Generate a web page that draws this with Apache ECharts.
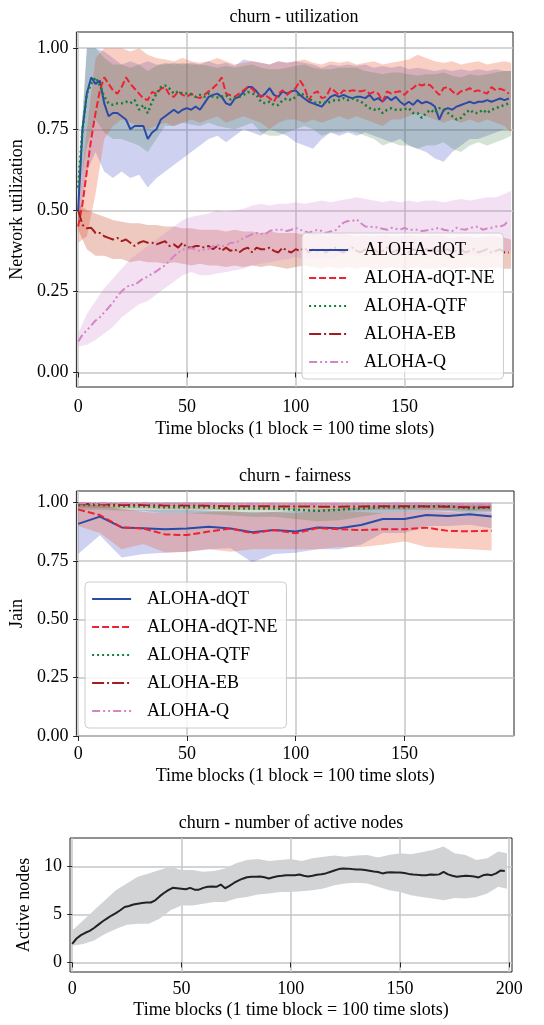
<!DOCTYPE html>
<html><head><meta charset="utf-8">
<script src="https://cdn.jsdelivr.net/npm/echarts@6/dist/echarts.min.js"></script>
<style>html,body{margin:0;padding:0;background:#fff}#c{width:544px;height:1025px}</style>
</head><body><div id="c"></div>
<script>
// ---------- names / ticks ----------
const seriesNames = ['ALOHA-dQT','ALOHA-dQT-NE','ALOHA-QTF','ALOHA-EB','ALOHA-Q'];
const xTicksTop = [0,50,100,150];
const yTicksFrac = [0,0.25,0.5,0.75,1.0];
const xTicksNodes = [0,50,100,150,200];
const yTicksNodes = [0,5,10];

// ---------- utilization (x = 0,2,...,198) ----------
const utilX = Array.from({length:100},(_,i)=>2*i);
const utilDQT = [
.50,.75,.86,.91,.89,.90,.83,.79,.80,.80,
.79,.78,.75,.76,.76,.76,.72,.74,.75,.78,
.79,.80,.81,.80,.81,.815,.81,.82,.81,.83,
.85,.856,.86,.85,.83,.825,.845,.85,.865,.88,
.88,.867,.85,.86,.877,.856,.85,.867,.86,.867,
.87,.856,.845,.835,.83,.825,.82,.835,.85,.856,
.85,.856,.85,.846,.85,.85,.846,.856,.84,.846,
.835,.85,.84,.85,.835,.825,.835,.825,.84,.83,
.835,.83,.82,.78,.81,.815,.81,.82,.825,.83,
.835,.83,.835,.835,.84,.835,.84,.845,.84,.845];
const utilNE = [
.45,.52,.62,.72,.80,.87,.91,.89,.87,.86,
.88,.91,.89,.875,.86,.845,.84,.865,.86,.875,
.88,.856,.85,.867,.856,.85,.86,.85,.846,.856,
.867,.877,.89,.91,.86,.855,.85,.86,.87,.88,
.875,.86,.85,.856,.846,.835,.86,.87,.856,.867,
.877,.90,.88,.84,.86,.867,.846,.85,.877,.867,
.855,.87,.867,.87,.868,.867,.87,.86,.865,.86,
.835,.867,.86,.865,.867,.856,.87,.877,.89,.885,
.89,.885,.87,.856,.877,.88,.867,.856,.867,.87,
.877,.867,.87,.865,.86,.88,.87,.875,.87,.86];
const utilQTF = [
.57,.75,.86,.89,.91,.885,.85,.83,.825,.83,
.83,.835,.83,.84,.81,.825,.80,.835,.86,.88,
.885,.875,.86,.867,.86,.86,.858,.85,.856,.85,
.86,.85,.848,.85,.855,.842,.846,.85,.856,.865,
.86,.856,.835,.83,.835,.825,.825,.84,.845,.84,
.85,.86,.856,.846,.835,.83,.835,.83,.835,.84,
.84,.846,.84,.845,.84,.835,.825,.815,.81,.815,
.80,.81,.815,.81,.81,.812,.815,.80,.80,.785,
.80,.81,.80,.815,.81,.80,.79,.78,.785,.80,
.81,.80,.80,.81,.80,.81,.815,.82,.825,.83];
const utilEB = [
.50,.455,.445,.446,.43,.43,.42,.415,.41,.415,
.405,.41,.40,.39,.40,.405,.40,.40,.395,.40,
.405,.39,.395,.385,.40,.385,.385,.39,.39,.385,
.39,.38,.39,.375,.385,.375,.38,.37,.38,.385,
.37,.385,.38,.38,.385,.375,.37,.385,.375,.37,
.38,.375,.385,.37,.38,.375,.38,.37,.38,.385,
.375,.37,.38,.385,.375,.37,.38,.375,.38,.37,
.375,.385,.37,.375,.38,.375,.37,.38,.375,.37,
.38,.375,.385,.37,.375,.38,.37,.375,.38,.37,
.375,.38,.37,.375,.38,.37,.375,.38,.37,.37];
const utilQ = [
.095,.116,.13,.145,.16,.17,.185,.20,.215,.235,
.25,.262,.27,.27,.28,.29,.295,.305,.312,.322,
.33,.345,.358,.369,.379,.38,.384,.378,.374,.379,
.38,.39,.393,.39,.39,.40,.40,.405,.415,.42,
.426,.43,.428,.426,.436,.44,.44,.44,.436,.44,
.446,.44,.436,.43,.436,.44,.436,.43,.435,.436,
.45,.462,.467,.467,.472,.46,.45,.448,.45,.446,
.443,.44,.446,.443,.44,.446,.44,.44,.44,.436,
.438,.44,.443,.446,.44,.438,.436,.446,.442,.44,
.446,.448,.45,.44,.444,.446,.45,.45,.455,.47];

// ---------- utilization bands (x = 0,4,...,196,199) ----------
const bandX = Array.from({length:50},(_,i)=>4*i).concat([199]);
const bandDQTup = [.56,1.0,1.0,.99,.97,.95,.96,.95,.96,.95, .95,.955,.95,.955,.95,.96,.95,.955,.945,.965, .96,.955,.95,.96,.955,.96,.955,.95,.94,.95, .945,.95,.945,.95,.94,.945,.94,.945,.935,.94, .935,.93,.935,.93,.935,.93,.935,.93,.935,.93, .93];
const bandDQTlo = [.45,.62,.68,.62,.60,.62,.60,.61,.57,.60, .62,.64,.66,.68,.70,.72,.73,.71,.73,.75, .74,.73,.75,.74,.73,.71,.70,.69,.72,.74, .73,.74,.73,.74,.73,.72,.71,.72,.70,.69, .68,.66,.65,.68,.70,.72,.72,.73,.74,.75, .75];
const bandNEup = [.50,.75,.97,1.0,1.0,1.0,.99,1.0,.98,.97, .965,.96,.97,.96,.955,.96,.97,.96,.95,.955, .96,.955,.95,.96,.955,.96,.965,.955,.95,.96, .955,.96,.95,.955,.96,.95,.955,.96,.965,.98, .97,.96,.955,.96,.95,.955,.96,.95,.955,.96, .955];
const bandNElo = [.40,.42,.55,.72,.76,.78,.77,.76,.75,.76, .77,.76,.77,.78,.77,.78,.79,.77,.78,.79, .78,.77,.75,.77,.78,.78,.77,.78,.77,.78, .79,.78,.79,.78,.77,.76,.78,.78,.79,.80, .79,.78,.77,.78,.77,.78,.77,.78,.77,.76, .74];
const bandQTFup = [.60,1.0,1.0,.97,.95,.95,.94,.95,.93,.945, .955,.95,.955,.95,.95,.945,.94,.945,.94,.945, .95,.94,.935,.935,.94,.945,.95,.94,.935,.935, .94,.94,.94,.93,.925,.92,.925,.925,.92,.915, .92,.92,.925,.915,.91,.92,.915,.92,.925,.93, .93];
const bandQTFlo = [.54,.70,.78,.74,.72,.72,.71,.70,.68,.72, .76,.76,.77,.765,.76,.77,.76,.755,.75,.76, .77,.74,.73,.73,.74,.75,.76,.75,.73,.74, .74,.745,.74,.73,.72,.70,.71,.70,.70,.69, .70,.70,.71,.69,.68,.70,.71,.70,.71,.72, .73];
const bandEBup = [.52,.50,.49,.48,.47,.465,.46,.46,.455,.455, .45,.45,.445,.445,.44,.44,.44,.435,.44,.435, .435,.43,.435,.43,.43,.43,.425,.43,.425,.425, .43,.425,.42,.425,.42,.425,.42,.42,.425,.42, .42,.425,.42,.415,.42,.42,.415,.42,.42,.415, .41];
const bandEBlo = [.44,.38,.36,.36,.35,.35,.34,.345,.34,.34, .335,.34,.335,.33,.335,.33,.33,.325,.33,.325, .33,.325,.33,.325,.32,.325,.33,.325,.32,.325, .32,.325,.32,.325,.32,.32,.325,.32,.32,.325, .32,.32,.325,.32,.32,.325,.32,.32,.325,.32, .32];
const bandQup = [.12,.18,.22,.26,.29,.32,.35,.37,.39,.41, .43,.45,.47,.48,.485,.49,.50,.495,.50,.505, .515,.52,.515,.52,.52,.525,.52,.525,.53,.525, .53,.535,.54,.535,.53,.525,.53,.525,.53,.525, .53,.53,.525,.53,.535,.53,.535,.54,.54,.55, .56];
const bandQlo = [.08,.085,.10,.12,.14,.17,.19,.21,.22,.24, .26,.28,.30,.31,.30,.30,.305,.31,.315,.32, .33,.335,.34,.345,.35,.355,.35,.35,.355,.35, .36,.37,.375,.37,.365,.36,.365,.36,.36,.36, .355,.36,.36,.355,.36,.36,.36,.36,.365,.37, .375];

// ---------- fairness (x = 0,10,...,190) ----------
const fairX = [0,10,20,30,40,50,60,70,80,90,100,110,120,130,140,150,160,170,180,190];
const fairDQT = [.909,.94,.894,.89,.886,.889,.897,.889,.873,.883,.876,.894,.89,.904,.93,.93,.947,.943,.95,.941];
const fairNE  = [.971,.947,.894,.889,.864,.861,.876,.889,.869,.883,.869,.891,.886,.883,.886,.886,.893,.879,.877,.88];
const fairQTF = [.99,.99,.985,.985,.98,.98,.98,.975,.975,.975,.97,.965,.97,.975,.98,.98,.985,.985,.975,.98];
const fairEB  = [.995,.993,.99,.99,.988,.988,.987,.985,.985,.984,.984,.983,.983,.984,.985,.985,.984,.983,.98,.98];
const fairQ   = [.998,.998,.997,.997,.996,.996,.996,.995,.995,.995,.994,.994,.994,.995,.995,.995,.995,.994,.993,.993];
const fairDQTup = [.99,.99,.97,.97,.97,.97,.965,.96,.96,.96,.965,.97,.975,.98,.99,.99,.99,.99,.99,.99];
const fairDQTlo = [.78,.86,.765,.78,.785,.79,.80,.805,.745,.78,.785,.80,.80,.82,.87,.87,.90,.90,.905,.89];
const fairNEup  = [.995,.99,.975,.96,.955,.955,.96,.965,.955,.96,.955,.965,.965,.96,.955,.96,.965,.96,.955,.955];
const fairNElo  = [.90,.87,.80,.823,.786,.79,.80,.79,.80,.80,.80,.80,.81,.81,.82,.835,.81,.805,.80,.795];
const fairQTFup = [1,1,1,1,1,1,1,.995,.995,.995,.995,.995,.995,.995,1,1,1,1,.995,.995];
const fairQTFlo = [.97,.97,.965,.965,.955,.955,.95,.945,.94,.94,.93,.92,.925,.94,.955,.96,.965,.965,.955,.96];
const fairEBup  = [1,1,1,1,1,1,1,1,1,1,1,1,1,1,1,1,1,1,1,1];
const fairEBlo  = [.98,.978,.975,.975,.972,.972,.97,.97,.97,.968,.968,.966,.966,.968,.97,.97,.97,.968,.965,.965];
const fairQup   = [1,1,1,1,1,1,1,1,1,1,1,1,1,1,1,1,1,1,1,1];
const fairQlo   = [.99,.99,.988,.988,.986,.986,.986,.985,.985,.985,.984,.984,.984,.985,.985,.985,.985,.984,.983,.983];

// ---------- active nodes ----------
const nodesX = Array.from({length:100},(_,i)=>2*i);
const nodesMean = [
1.93,2.5,2.85,3.1,3.3,3.6,3.95,4.3,4.6,4.9,
5.15,5.45,5.79,5.9,6.05,6.14,6.22,6.25,6.26,6.49,
6.9,7.25,7.55,7.79,7.75,7.7,7.65,7.79,7.6,7.6,
7.79,7.9,7.92,7.9,8.14,7.75,8.0,8.3,8.55,8.75,
8.9,8.95,8.95,8.98,8.9,8.77,8.9,9.0,9.05,9.12,
9.1,9.12,9.19,9.05,8.98,9.05,9.15,9.22,9.3,9.45,
9.6,9.75,9.82,9.8,9.75,9.72,9.7,9.65,9.58,9.5,
9.45,9.3,9.4,9.42,9.4,9.4,9.35,9.25,9.19,9.15,
9.12,9.1,9.19,9.15,9.2,9.47,9.2,9.05,8.95,9.0,
9.05,9.02,8.98,8.88,9.1,9.19,9.12,9.3,9.6,9.55];
const nodesBandX = Array.from({length:40},(_,i)=>5*i).concat([199]);
const nodesUp = [3.33,4.39,5.44,6.49,7.54,8.25,8.95,9.3,9.65,10.0,9.65,9.65,9.47,9.54,9.82,10.35,10.7,10.8,10.6,10.7,10.8,10.6,10.88,11.05,11.16,11.05,11.16,11.23,10.95,11.23,11.4,11.3,11.5,11.75,12.1,11.4,11.23,10.7,10.88,11.58,11.4];
const nodesLo = [1.75,1.93,2.28,2.98,3.5,3.93,4.04,4.04,4.56,5.44,5.96,5.96,6.14,6.32,6.32,6.67,6.84,7.09,7.19,7.37,7.37,7.44,7.54,7.72,8.07,8.25,8.32,8.25,7.9,7.54,7.37,7.02,6.84,6.67,6.49,6.74,6.67,6.84,7.19,7.9,7.7];

// ---------- styling ----------
const FONT = 'Liberation Serif';
const colors = ['#2a4aa8','#ee2233','#10803c','#a31c20','#d486c4'];
const bandColors = ['rgba(80,90,200,0.28)','rgba(235,95,60,0.3)','rgba(40,110,50,0.2)','rgba(190,60,30,0.28)','rgba(200,120,200,0.22)'];
const dashes = ['solid',[7,3],[2,3],[12,3,2,3],[8,3,2,3,2,3]];
const widths = [2,2,2.5,2,2];

function pairs(xs, ys){ return ys.map((y,i)=>[xs[i], y]); }
function lineS(k, gi, xs, ys){
  return {type:'line', name:seriesNames[k], xAxisIndex:gi, yAxisIndex:gi, data:pairs(xs,ys),
    symbol:'none', z:3, clip:true, animation:false,
    lineStyle:{color:colors[k], width:widths[k], type:dashes[k], cap:'butt'}, itemStyle:{color:colors[k]}};
}
function bandS(name, gi, xs, up, lo, fill){
  return {type:'custom', name:name, xAxisIndex:gi, yAxisIndex:gi, z:1, silent:true, clip:true, animation:false,
    data:[[xs[0], lo[0]]],
    renderItem:function(params, api){
      const pts=[];
      for(let i=0;i<xs.length;i++) pts.push(api.coord([xs[i], up[i]]));
      for(let i=xs.length-1;i>=0;i--) pts.push(api.coord([xs[i], lo[i]]));
      return {type:'polygon', shape:{points:pts}, style:{fill:fill}};
    }};
}
function xAx(gi, min, max, ticks, name, gap, margin){
  return {type:'value', gridIndex:gi, min:min, max:max, name:name, nameLocation:'middle', nameGap:gap,
    nameTextStyle:{fontFamily:FONT, fontSize:18, color:'#000'},
    axisLine:{show:false},
    axisTick:{show:true, customValues:ticks, length:5, lineStyle:{color:'#222', width:1}},
    axisLabel:{customValues:ticks, fontFamily:FONT, fontSize:18, color:'#000', margin:margin},
    splitLine:{show:true, lineStyle:{color:'#c6c6c6', width:1.5}}};
}
function yAx(gi, min, max, ticks, name, gap, fmt){
  return {type:'value', gridIndex:gi, min:min, max:max, name:name, nameLocation:'middle', nameGap:gap,
    nameTextStyle:{fontFamily:FONT, fontSize:18, color:'#000'},
    axisLine:{show:false},
    axisTick:{show:true, customValues:ticks, length:5, lineStyle:{color:'#222', width:1}},
    axisLabel:{customValues:ticks, fontFamily:FONT, fontSize:18, color:'#000', margin:8, formatter:fmt},
    splitLine:{show:true, lineStyle:{color:'#c6c6c6', width:1.5}}};
}
const f2 = v => v.toFixed(2);
const f0 = v => String(Math.round(v));

function legendAt(left, top){
  return {data:seriesNames, orient:'vertical', left:left, top:top, padding:[8,9,8,6], itemGap:10,
    itemWidth:39, itemHeight:18, backgroundColor:'rgba(255,255,255,0.8)', borderColor:'#cccccc',
    borderWidth:1, borderRadius:4, selectedMode:false, itemStyle:{opacity:0},
    lineStyle:{width:2.2},
    textStyle:{fontFamily:FONT, fontSize:18, color:'#000', padding:[0,0,0,11]}};
}

const series = [];
const upT=[bandDQTup,bandNEup,bandQTFup,bandEBup,bandQup], loT=[bandDQTlo,bandNElo,bandQTFlo,bandEBlo,bandQlo];
const lnT=[utilDQT,utilNE,utilQTF,utilEB,utilQ];
for(let k=0;k<5;k++) series.push(bandS('band-u-'+k,0,bandX,upT[k],loT[k],bandColors[k]));
for(let k=0;k<5;k++) series.push(lineS(k,0,utilX,lnT[k]));
const upF=[fairDQTup,fairNEup,fairQTFup,fairEBup,fairQup], loF=[fairDQTlo,fairNElo,fairQTFlo,fairEBlo,fairQlo];
const lnF=[fairDQT,fairNE,fairQTF,fairEB,fairQ];
for(let k=0;k<5;k++) series.push(bandS('band-f-'+k,1,fairX,upF[k],loF[k],bandColors[k]));
for(let k=0;k<5;k++) series.push(lineS(k,1,fairX,lnF[k]));
series.push(bandS('band-n',2,nodesBandX,nodesUp,nodesLo,'#d2d3d5'));
series.push({type:'line', name:'Active nodes', xAxisIndex:2, yAxisIndex:2, data:pairs(nodesX,nodesMean),
  symbol:'none', z:3, animation:false, lineStyle:{color:'#222', width:2}});

const titleStyle = {fontFamily:FONT, fontSize:18, fontWeight:'normal', color:'#000'};
const option = {
  animation:false,
  textStyle:{fontFamily:FONT},
  title:[
    {text:'churn - utilization', left:294, top:8, textAlign:'center', padding:0, textStyle:titleStyle},
    {text:'churn - fairness', left:295, top:467, textAlign:'center', padding:0, textStyle:titleStyle},
    {text:'churn - number of active nodes', left:291, top:814, textAlign:'center', padding:0, textStyle:titleStyle}
  ],
  grid:[
    {left:76, top:32, width:437, height:355, show:true, borderColor:'#222', borderWidth:1, backgroundColor:'transparent'},
    {left:76, top:491, width:438, height:245, show:true, borderColor:'#222', borderWidth:1, backgroundColor:'transparent'},
    {left:70, top:838, width:442, height:134, show:true, borderColor:'#222', borderWidth:1, backgroundColor:'transparent'}
  ],
  xAxis:[
    xAx(0,-0.8,199.9,xTicksTop,'Time blocks (1 block = 100 time slots)',33,11),
    xAx(1,-0.8,200.3,xTicksTop,'Time blocks (1 block = 100 time slots)',31,9),
    xAx(2,-1,201.3,xTicksNodes,'Time blocks (1 time block = 100 time slots)',29,8)
  ],
  yAxis:[
    yAx(0,-0.045,1.05,yTicksFrac,'Network utilization',50,f2),
    yAx(1,0,1.05,yTicksFrac,'Jain',50,f2),
    yAx(2,-1,13,yTicksNodes,'Active nodes',33,f0)
  ],
  legend:[legendAt(302,233), legendAt(85,582)],
  series:series
};
const chart = echarts.init(document.getElementById('c'), null, {renderer:'canvas'});
chart.setOption(option);
</script></body></html>
